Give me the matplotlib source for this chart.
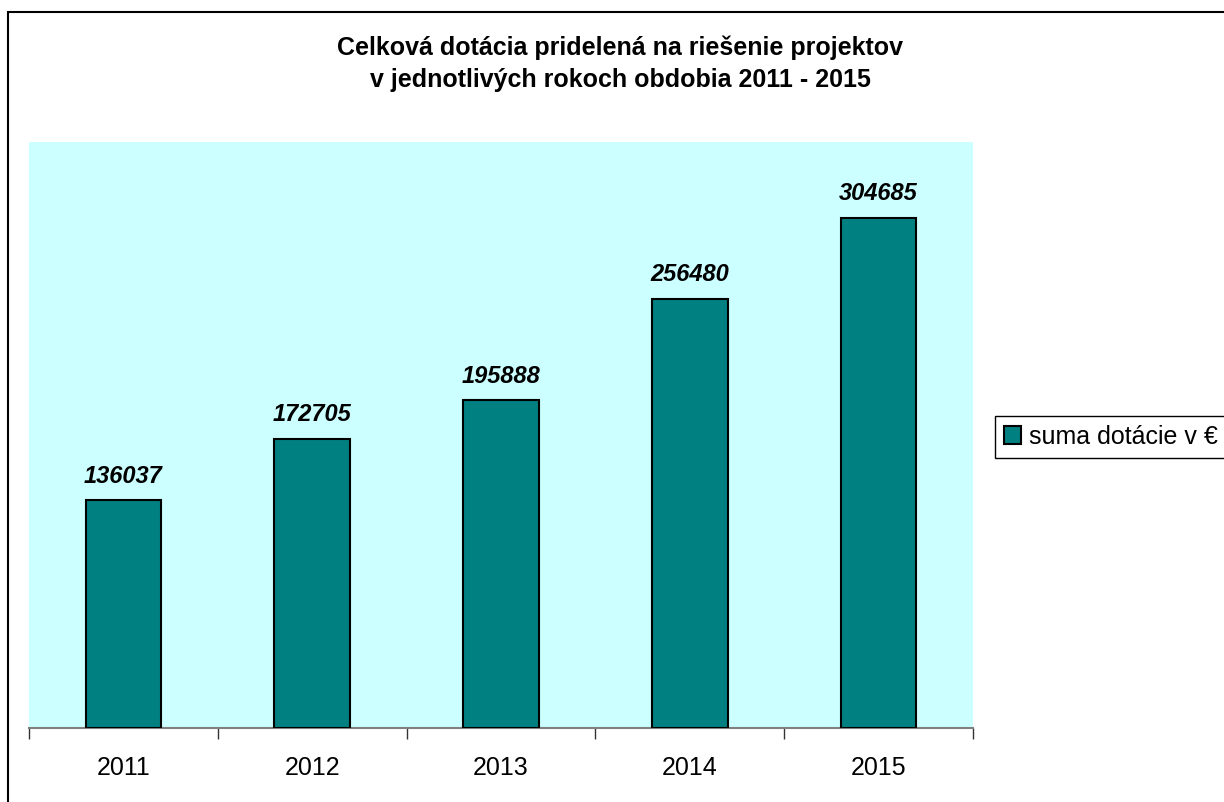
import matplotlib
matplotlib.use('Agg')
import matplotlib.pyplot as plt
from matplotlib.patches import Rectangle

# chart values
years = ['2011', '2012', '2013', '2014', '2015']
amounts = [136037, 172705, 195888, 256480, 304685]
series_name = 'suma dotácie v €'
title = 'Celková dotácia pridelená na riešenie projektov\nv jednotlivých rokoch obdobia 2011 - 2015'

plt.rcParams['font.family'] = ['Liberation Sans', 'DejaVu Sans']

fig = plt.figure(figsize=(12.24, 8.02), dpi=100)
ax = fig.add_axes([29 / 1224, 1 - 728 / 802, 944 / 1224, 586 / 802])
ax.set_facecolor('#CCFFFF')

x = range(len(years))
bars = ax.bar(x, amounts, width=0.40, color='#008080', edgecolor='black',
              linewidth=1.5, label=series_name, zorder=3)

for xi, v in zip(x, amounts):
    ax.annotate(str(v), (xi, v), xytext=(0, 9), textcoords='offset points',
                ha='center', va='bottom', fontsize=17, fontweight='bold',
                fontstyle='italic')

ax.set_xlim(-0.5, len(years) - 0.5)
ax.set_ylim(0, 350000)

# tick marks between categories, labels at category centres
ax.set_xticks([i - 0.5 for i in range(len(years) + 1)])
ax.set_xticklabels([])
ax.set_xticks(list(x), minor=True)
ax.set_xticklabels(years, minor=True, fontsize=18)
ax.tick_params(axis='x', which='major', length=8, width=1, color='#333333')
ax.tick_params(axis='x', which='minor', length=0, pad=20)
ax.set_yticks([])

for s in ['top', 'right', 'left']:
    ax.spines[s].set_visible(False)
ax.spines['bottom'].set_color('#808080')
ax.spines['bottom'].set_linewidth(1.5)

fig.text(620 / 1224, 1 - 64 / 802, title, ha='center', va='center',
         fontsize=18, fontweight='bold', linespacing=1.4)

leg = fig.legend(handles=[bars], labels=[series_name], loc='upper left',
                 bbox_to_anchor=(995 / 1224, 1 - 416 / 802), borderaxespad=0,
                 fancybox=False, framealpha=1, edgecolor='black', fontsize=18,
                 handlelength=0.7, handleheight=0.7, handletextpad=0.3,
                 borderpad=0.35)
leg.get_frame().set_linewidth(1)

# outer chart frame (right and bottom edges fall outside the image)
fig.add_artist(Rectangle((8 / 1224, -0.2), 2, 1.2 - 12 / 802,
                         transform=fig.transFigure, fill=False,
                         edgecolor='black', linewidth=1.5))

fig.savefig('out.png', dpi=100)
